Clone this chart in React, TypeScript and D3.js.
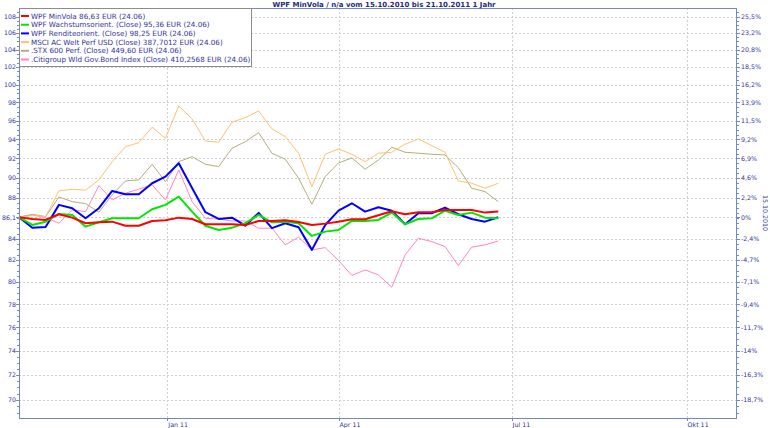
import React from "react";
import * as d3 from "d3";

// ---- data (weekly closes, normalised to the first series' start value) ----
const firstDate = Date.UTC(2010, 9, 15);
const weekCount = 37;

const seriesLabels = [
  "WPF MinVola 86,63 EUR (24.06)",
  "WPF Wachstumsorient. (Close) 95,36 EUR (24.06)",
  "WPF Renditeorient. (Close) 98,25 EUR (24.06)",
  "MSCI AC Welt Perf USD (Close) 387,7012 EUR (24.06)",
  ".STX 600 Perf. (Close) 449,60 EUR (24.06)",
  ".Citigroup Wld Gov.Bond Index (Close) 410,2568 EUR (24.06)",
];
const seriesColors = ["#ff0000", "#00e600", "#0000ff", "#ffc070", "#b5ad7a", "#ff84c8"];
const seriesWidths = [2, 2, 2, 1, 1, 1];

const minVola = [86.07, 85.9, 85.81, 86.36, 86.03, 85.49, 85.58, 85.64, 85.25, 85.25, 85.71, 85.78, 86.03, 85.9, 85.39, 85.39, 85.39, 85.32, 85.71, 85.71, 85.78, 85.61, 85.32, 85.45, 85.64, 85.88, 85.88, 86.26, 86.66, 86.36, 86.56, 86.56, 86.78, 86.78, 86.78, 86.52, 86.62];
const wachstum = [86.07, 85.32, 85.64, 86.39, 86.29, 85.16, 85.58, 85.97, 85.97, 85.97, 86.85, 87.28, 88.1, 86.62, 85.25, 84.84, 85.06, 85.49, 86.29, 85.58, 85.64, 85.49, 84.27, 84.68, 84.84, 85.71, 85.71, 85.81, 86.52, 85.39, 85.9, 85.97, 86.71, 86.29, 86.52, 86.03, 85.97];
const rendite = [86.07, 85.06, 85.13, 87.28, 86.95, 85.97, 86.95, 88.67, 88.34, 88.34, 89.44, 90.11, 91.49, 88.97, 86.56, 85.9, 86.03, 85.25, 86.49, 85.01, 85.49, 85.1, 82.95, 85.32, 86.71, 87.44, 86.62, 87.05, 86.71, 85.39, 86.46, 86.46, 87.01, 86.36, 85.9, 85.64, 86.07];
const msciWelt = [86.07, 86.23, 86.13, 88.67, 88.84, 88.74, 89.78, 91.65, 93.22, 93.64, 95.29, 94.11, 97.61, 96.19, 93.82, 93.69, 95.83, 96.33, 97.06, 95.11, 94.28, 92.53, 89.1, 92.42, 92.98, 92.42, 91.65, 92.53, 92.63, 93.47, 94.04, 93.33, 92.63, 89.68, 89.44, 88.94, 89.44];
const stx600 = [86.07, 86.36, 86.13, 88.07, 87.6, 87.4, 86.56, 88.27, 89.68, 89.78, 91.38, 89.6, 91.65, 92.17, 91.38, 91.14, 93.05, 93.75, 94.71, 92.53, 91.9, 89.95, 87.34, 90.11, 91.52, 92.04, 90.87, 91.83, 93.16, 92.63, 92.53, 92.42, 92.35, 91.03, 88.94, 88.6, 87.6];
const citiBond = [86.07, 86.29, 86.03, 85.49, 86.78, 86.62, 89.2, 87.77, 88.44, 88.84, 89.27, 87.77, 90.8, 87.6, 85.97, 85.88, 85.71, 85.71, 85.01, 85.01, 83.42, 84.15, 82.95, 83.16, 81.97, 80.59, 81.09, 80.63, 79.52, 82.48, 84.05, 83.73, 83.26, 81.49, 83.2, 83.42, 83.79];

const allSeries = [minVola, wachstum, rendite, msciWelt, stx600, citiBond];

const leftTickValues = [108, 106, 104, 102, 100, 98, 96, 94, 92, 90, 88, 86.07, 84, 82, 80, 78, 76, 74, 72, 70];
const leftTickLabels = ["108", "106", "104", "102", "100", "98", "96", "94", "92", "90", "88", "86,1", "84", "82", "80", "78", "76", "74", "72", "70"];
const rightTickLabels = ["25,5%", "23,2%", "20,8%", "18,5%", "16,2%", "13,9%", "11,5%", "9,2%", "6,9%", "4,6%", "2,2%", "0%", "-2,4%", "-4,7%", "-7,1%", "-9,4%", "-11,7%", "-14%", "-16,3%", "-18,7%"];
const monthTicks = [Date.UTC(2011, 0, 1), Date.UTC(2011, 3, 1), Date.UTC(2011, 6, 1), Date.UTC(2011, 9, 1)];
const monthLabels = ["Jan 11", "Apr 11", "Jul 11", "Okt 11"];

const title = "WPF MinVola / n/a vom 15.10.2010 bis 21.10.2011 1 Jahr";
const rightAxisTitle = "15.10.2010";

// ---- layout ----
const W = 770;
const H = 428;
const L = 19;
const R = 736;
const T = 8;
const B = 418;

const FONT = "'DejaVu Sans', Verdana, sans-serif";
const AXIS_COLOR = "#7088cc";
const LABEL_COLOR = "#333399";
const GRID_COLOR = "#cfcfcf";

export default function App() {
  const dates = d3.range(weekCount).map((i) => new Date(firstDate + i * 7 * 86400000));
  const x = d3
    .scaleUtc()
    .domain([new Date(Date.UTC(2010, 9, 15)), new Date(Date.UTC(2011, 9, 27))])
    .range([L, R]);
  const y = d3.scaleLog().domain([70, 108]).range([400, 16.5]);

  const line = d3
    .line<number>()
    .x((_, i) => x(dates[i]))
    .y((v) => y(v));

  const minorTicks = d3.range(68.5, 109.5, 0.5).filter((v) => y(v) > T + 1 && y(v) < B - 1);

  const drawOrder = [5, 4, 3, 2, 1, 0];

  return (
    <svg
      width={W}
      height={H}
      style={{ position: "absolute", left: 0, top: 0, background: "#fff" }}
      fontFamily={FONT}
    >
      <rect x={0} y={0} width={W} height={H} fill="#fff" />
      {/* grid */}
      <g shapeRendering="crispEdges">
        {leftTickValues.map((v, i) => (
          <line
            key={"hg" + i}
            x1={L}
            x2={R}
            y1={Math.round(y(v)) + 0.5}
            y2={Math.round(y(v)) + 0.5}
            stroke={GRID_COLOR}
            strokeDasharray="2,2"
          />
        ))}
        {monthTicks.map((t, i) => (
          <line
            key={"vg" + i}
            x1={Math.round(x(new Date(t))) + 0.5}
            x2={Math.round(x(new Date(t))) + 0.5}
            y1={T}
            y2={B}
            stroke={GRID_COLOR}
            strokeDasharray="2,2"
          />
        ))}
      </g>

      {/* series */}
      <g fill="none" strokeLinejoin="round">
        {drawOrder.map((si) => (
          <path
            key={"s" + si}
            d={line(allSeries[si]) || ""}
            stroke={seriesColors[si]}
            strokeWidth={seriesWidths[si]}
          />
        ))}
      </g>

      {/* frame */}
      <g shapeRendering="crispEdges" stroke={AXIS_COLOR} fill="none">
        <rect x={L + 0.5} y={T + 0.5} width={R - L} height={B - T} strokeWidth={1} />
        {minorTicks.map((v, i) => (
          <g key={"mt" + i}>
            <line x1={L - 2} x2={L} y1={Math.round(y(v)) + 0.5} y2={Math.round(y(v)) + 0.5} />
            <line x1={R + 1} x2={R + 3} y1={Math.round(y(v)) + 0.5} y2={Math.round(y(v)) + 0.5} />
          </g>
        ))}
        {leftTickValues.map((v, i) => (
          <g key={"mj" + i}>
            <line x1={L - 3} x2={L} y1={Math.round(y(v)) + 0.5} y2={Math.round(y(v)) + 0.5} />
            <line x1={R + 1} x2={R + 4} y1={Math.round(y(v)) + 0.5} y2={Math.round(y(v)) + 0.5} />
          </g>
        ))}
        {monthTicks.map((t, i) => (
          <line
            key={"bt" + i}
            x1={Math.round(x(new Date(t))) + 0.5}
            x2={Math.round(x(new Date(t))) + 0.5}
            y1={B + 1}
            y2={B + 3}
          />
        ))}
      </g>

      {/* axis labels */}
      <g fontSize={6.3} fill={LABEL_COLOR}>
        {leftTickValues.map((v, i) => (
          <text key={"ll" + i} x={16} y={y(v) + 2.3} textAnchor="end">
            {leftTickLabels[i]}
          </text>
        ))}
        {leftTickValues.map((v, i) => (
          <text key={"rl" + i} x={741} y={y(v) + 2.3}>
            {rightTickLabels[i]}
          </text>
        ))}
        {monthTicks.map((t, i) => (
          <text key={"bl" + i} x={x(new Date(t)) + 1} y={427}>
            {monthLabels[i]}
          </text>
        ))}
        <text transform={`translate(763,195) rotate(90)`} textAnchor="start">
          {rightAxisTitle}
        </text>
      </g>

      {/* title */}
      <text x={384} y={7} textAnchor="middle" fontSize={7} fontWeight="bold" fill="#1f2a80">
        {title}
      </text>

      {/* legend */}
      <g>
        <rect x={19.5} y={8.5} width={232} height={58} fill="#fff" stroke="#8c8c8c" strokeWidth={1} shapeRendering="crispEdges" />
        {seriesLabels.map((lab, i) => {
          const cy = 16 + i * 8.7;
          return (
            <g key={"lg" + i}>
              <line x1={21} x2={29} y1={cy} y2={cy} stroke={seriesColors[i]} strokeWidth={2} />
              <text x={31} y={cy + 2.5} fontSize={7.2} fill={LABEL_COLOR}>
                {lab}
              </text>
            </g>
          );
        })}
      </g>
    </svg>
  );
}
